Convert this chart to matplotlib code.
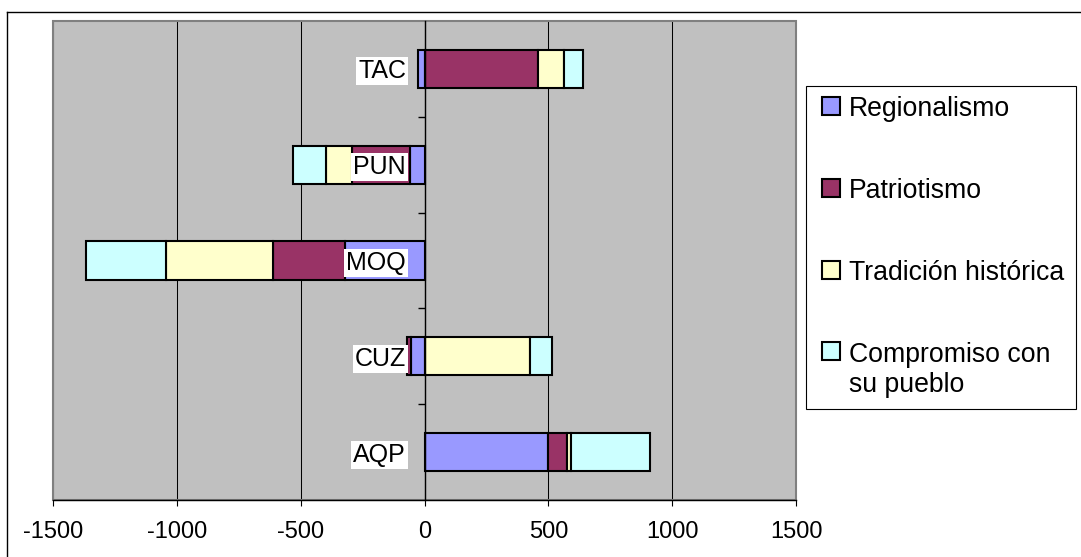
import numpy as np
import matplotlib
matplotlib.use('Agg')
import matplotlib.pyplot as plt
from matplotlib.lines import Line2D
from matplotlib.patches import Rectangle
from matplotlib.legend_handler import HandlerPatch

# ---- data ----
categories = ['AQP', 'CUZ', 'MOQ', 'PUN', 'TAC']
series_names = ['Regionalismo', 'Patriotismo', 'Tradición histórica',
                'Compromiso con\nsu pueblo']
regionalismo = [500, -55, -320, -57, -28]
patriotismo = [75, -15, -292, -235, 460]
tradicion = [15, 425, -431, -104, 105]
compromiso = [320, 90, -324, -134, 75]
x_ticks = [-1500, -1000, -500, 0, 500, 1000, 1500]
colors = ['#9999FF', '#993366', '#FFFFCC', '#CCFFFF']

W, H = 1081, 557
plt.rcParams['font.family'] = ['Liberation Sans', 'DejaVu Sans']
FS_TICK = 17
FS_CAT = 18
FS_LEG = 19.2

fig = plt.figure(figsize=(W / 100, H / 100), dpi=100)
ax = fig.add_axes([53 / W, 57 / H, 743 / W, 479 / H])
ax.set_facecolor('#C0C0C0')

y = np.arange(len(categories))
pos_base = np.zeros(len(categories))
neg_base = np.zeros(len(categories))
containers = []
for name, vals, c in zip(series_names,
                         [regionalismo, patriotismo, tradicion, compromiso],
                         colors):
    v = np.array(vals, float)
    left = np.where(v >= 0, pos_base, neg_base)
    bc = ax.barh(y, v, left=left, height=0.4, color=c, edgecolor='black',
                 linewidth=1.5, label=name, zorder=2)
    containers.append(bc)
    pos_base += np.where(v > 0, v, 0)
    neg_base += np.where(v < 0, v, 0)

ax.set_xlim(x_ticks[0], x_ticks[-1])
ax.set_ylim(-0.5, len(categories) - 0.5)

# x axis
ax.set_xticks(x_ticks)
ax.set_xticklabels([str(t) for t in x_ticks])
ax.tick_params(axis='x', direction='out', length=4.3, width=0.8,
               color='black', labelsize=FS_TICK, pad=10.5, labelcolor='black')
ax.grid(axis='x', color='black', linewidth=0.75)
ax.xaxis.set_zorder(0.5)

# y axis at x = 0
ax.spines['left'].set_position(('data', 0))
ax.spines['left'].set_color('black')
ax.spines['left'].set_linewidth(1.0)
ax.spines['left'].set_zorder(3)
ax.spines['top'].set_visible(False)
ax.spines['right'].set_visible(False)
ax.spines['bottom'].set_color('black')
ax.spines['bottom'].set_linewidth(1.0)
ax.spines['bottom'].set_zorder(3)

ax.set_yticks(y)
ax.set_yticklabels(categories)
ax.set_yticks(y[:-1] + 0.5, minor=True)
ax.tick_params(axis='y', which='major', length=0, labelsize=FS_CAT, pad=13.3)
ax.tick_params(axis='y', which='minor', length=5, width=1.0,
               direction='out', color='black')
for lbl in ax.get_yticklabels():
    lbl.set_bbox(dict(facecolor='white', edgecolor='none',
                      boxstyle='square,pad=0.08'))
ax.yaxis.set_zorder(5)

# plot area border
ax.add_patch(Rectangle((0, 0), 1, 1, transform=ax.transAxes, fill=False,
                       edgecolor='#808080', linewidth=1.5, zorder=0.7,
                       clip_on=False))

# legend
XPAD = 0.22
handles = [bc.patches[0] for bc in containers]
leg = ax.legend(handles=handles, labels=series_names,
                handler_map={Rectangle: HandlerPatch(xpad=XPAD)},
                loc='lower left',
                bbox_to_anchor=(806 / W, 148.5 / H, 270 / W, 321 / H),
                bbox_transform=fig.transFigure, mode='expand',
                fontsize=FS_LEG, frameon=True, fancybox=False,
                edgecolor='black', framealpha=1, borderpad=0.375,
                handlelength=0.67 + XPAD, handleheight=0.67,
                handletextpad=0.36, labelspacing=2.1, borderaxespad=0)
leg.get_frame().set_linewidth(0.8)
for t in leg.get_texts():
    t.set_linespacing(1.25)
try:
    for col in leg._legend_handle_box.get_children():
        for item in col.get_children():
            kids = item.get_children()
            if any('\n' in getattr(k, 'get_text', lambda: '')() for k in kids):
                item.align = 'top'
except Exception:
    pass

# outer chart border (partially visible)
fig.add_artist(Line2D([7.5 / W, 7.5 / W], [0, (H - 11.5) / H],
                      transform=fig.transFigure, color='black', lw=1))
fig.add_artist(Line2D([7.5 / W, 1], [(H - 11.5) / H, (H - 11.5) / H],
                      transform=fig.transFigure, color='black', lw=1))

fig.savefig('out.png', dpi=100)
